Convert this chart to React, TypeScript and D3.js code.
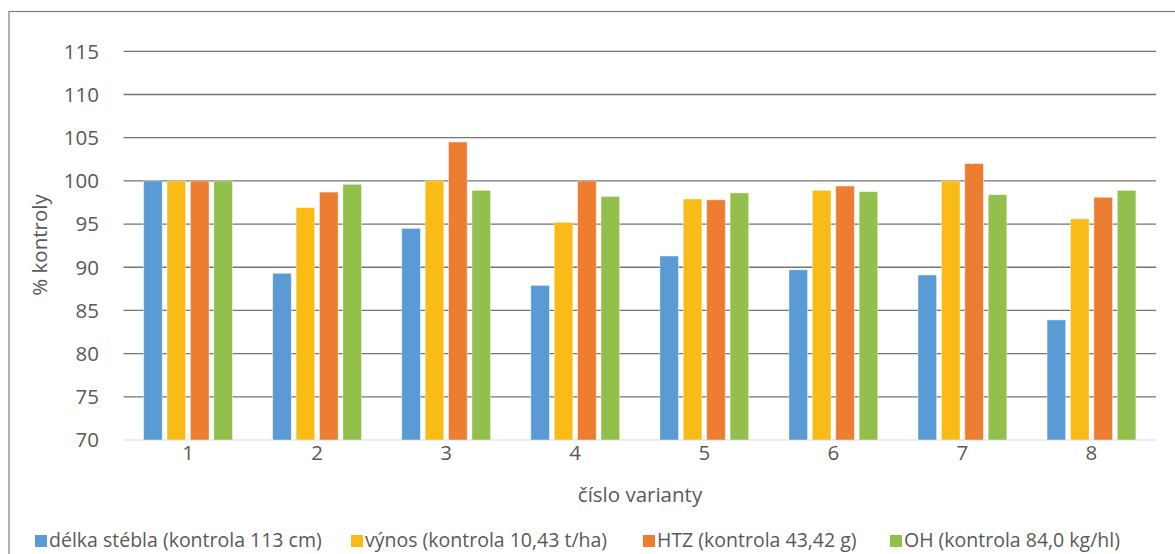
import React from "react";
import * as d3 from "d3";

const categories = ["1", "2", "3", "4", "5", "6", "7", "8"];
const seriesNames = [
  "délka stébla (kontrola 113 cm)",
  "výnos (kontrola 10,43 t/ha)",
  "HTZ (kontrola 43,42 g)",
  "OH (kontrola 84,0 kg/hl)",
];
const seriesColors = ["#5b9bd5", "#f9bc17", "#ed7d31", "#93c04c"];
const delka = [100, 89.3, 94.5, 87.9, 91.3, 89.7, 89.1, 83.9];
const vynos = [100, 96.9, 100, 95.2, 97.9, 98.9, 100, 95.6];
const htz = [100, 98.7, 104.5, 100, 97.8, 99.4, 102.0, 98.1];
const oh = [100, 99.6, 98.9, 98.2, 98.6, 98.75, 98.4, 98.9];
const seriesValues = [delka, vynos, htz, oh];
const yTicks = [70, 75, 80, 85, 90, 95, 100, 105, 110, 115];

const W = 1175;
const H = 554;
const FONT = "'Open Sans', 'Noto Sans', sans-serif";
const TXT = "#595959";

export default function App() {
  const left = 123.5;
  const right = 1156;
  const top = 51.3;
  const bottom = 440;
  const x = d3.scaleBand<string>().domain(categories).range([left, right]).padding(0);
  const y = d3.scaleLinear().domain([70, 115]).range([bottom, top]);
  const pitch = 23.4;
  const barW = 18.6;
  const groupSpan = pitch * 3 + barW;

  return (
    <svg width={W} height={H} style={{ position: "absolute", left: 0, top: 0, background: "#fff" }}>
      <rect x={9} y={11.5} width={W + 10} height={H + 10} fill="#fff" stroke="#7f7f7f" strokeWidth={1.2} />
      {yTicks.map((t) => (
        <g key={t}>
          <line
            x1={left}
            x2={right}
            y1={y(t)}
            y2={y(t)}
            stroke={t === 70 ? "#d9d9d9" : "#747474"}
            strokeWidth={t === 70 ? 1.2 : 1.3}
          />
          <text
            x={99}
            y={y(t)}
            dy="0.36em"
            textAnchor="end"
            fontFamily={FONT}
            fontSize={20.5}
            fill={TXT}
          >
            {t}
          </text>
        </g>
      ))}
      {categories.map((c, i) => {
        const cx = (x(c) as number) + x.bandwidth() / 2;
        return (
          <g key={c}>
            {seriesValues.map((vals, s) => {
              const bx = cx - groupSpan / 2 + s * pitch;
              return (
                <rect
                  key={s}
                  x={bx}
                  y={y(vals[i])}
                  width={barW}
                  height={y(70) - y(vals[i])}
                  fill={seriesColors[s]}
                  stroke="#fff"
                  strokeOpacity={0.5}
                  strokeWidth={0.8}
                />
              );
            })}
            <text x={cx} y={460} textAnchor="middle" fontFamily={FONT} fontSize={20.5} fill={TXT}>
              {c}
            </text>
          </g>
        );
      })}
      <text x={640} y={502} textAnchor="middle" fontFamily={FONT} fontSize={20.5} fill={TXT}>
        číslo varianty
      </text>
      <text
        transform={`translate(47,245) rotate(-90)`}
        textAnchor="middle"
        fontFamily={FONT}
        fontSize={20.5}
        fill={TXT}
      >
        % kontroly
      </text>
      {(() => {
        const starts = [35, 351, 643, 890];
        return seriesNames.map((n, s) => (
          <g key={n}>
            <rect x={starts[s]} y={535} width={12} height={12} fill={seriesColors[s]} />
            <text x={starts[s] + 14} y={547} fontFamily={FONT} fontSize={19.5} fill={TXT}>
              {n}
            </text>
          </g>
        ));
      })()}
    </svg>
  );
}
